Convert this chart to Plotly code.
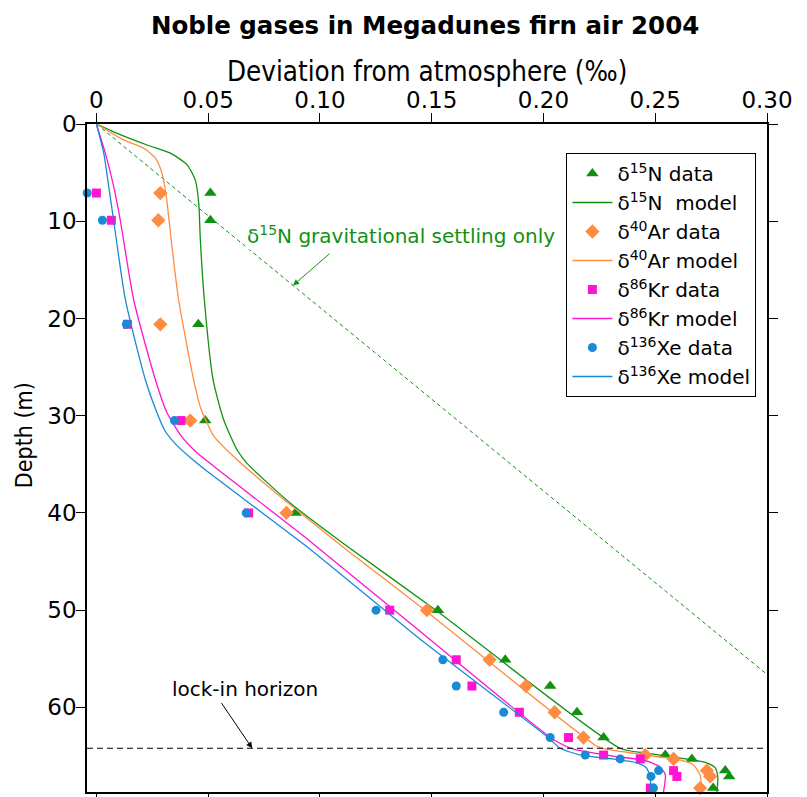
import plotly.graph_objects as go

# ---------------- data ----------------
depth_data = [7.1, 9.9, 20.6, 30.5, 40.0, 50.0, 55.1, 57.8, 60.5, 63.1, 64.9, 65.3, 66.5, 67.1, 68.3]
n15_data = [0.0510, 0.0510, 0.0456, 0.0487, 0.0890, 0.1528, 0.1829, 0.2030, 0.2150, 0.2269, 0.2545, 0.2664, 0.2813, 0.2831, 0.2759]
ar40_data = [0.0286, 0.0277, 0.0286, 0.0420, 0.0850, 0.1479, 0.1759, 0.1922, 0.2050, 0.2179, 0.2455, 0.2582, 0.2731, 0.2746, 0.2701]
kr86_data = [0.0000, 0.0067, 0.0139, 0.0379, 0.0681, 0.1312, 0.1610, 0.1680, 0.1892, 0.2112, 0.2269, 0.2433, 0.2582, 0.2597, 0.2478]
xe136_data = [-0.0041, 0.0027, 0.0134, 0.0349, 0.0670, 0.1251, 0.1550, 0.1610, 0.1822, 0.2030, 0.2187, 0.2343, 0.2515, 0.2481, 0.2492]

n15_model_depth = [0, 0.8, 2.16, 3.0, 4.2, 5.8, 8.2, 11.9, 18.1, 26.3, 30.4, 33.5, 34.9, 39.0, 43.4, 50.0, 64.2, 64.7, 65.4, 65.7, 66.2, 67.2, 68.7]
n15_model = [0, 0.0077, 0.0227, 0.0331, 0.0406, 0.0443, 0.0458, 0.0465, 0.0483, 0.0522, 0.0569, 0.0629, 0.0674, 0.0868, 0.1120, 0.1519, 0.2343, 0.2460, 0.2670, 0.2730, 0.2768, 0.2780, 0.2776]

ar40_model_depth = [0, 1.64, 2.5, 3.5, 5.1, 7.5, 12.6, 18.1, 26.3, 29.1, 32.1, 34.2, 36.9, 43.8, 50.0, 64.0, 64.3, 64.9, 65.4, 65.9, 66.9, 68.7]
ar40_model = [0, 0.0122, 0.0212, 0.0264, 0.0294, 0.0313, 0.0338, 0.0368, 0.0435, 0.0465, 0.0525, 0.0614, 0.0748, 0.1120, 0.1470, 0.2239, 0.2280, 0.2460, 0.2610, 0.2670, 0.2700, 0.2710]

kr86_model_depth = [0, 3.0, 6.4, 9.9, 18.1, 26.3, 29.7, 32.1, 33.7, 35.2, 42.8, 52.2, 63.3, 64.3, 65.0, 65.5, 66.1, 66.9, 68.7]
kr86_model = [0, 0.0040, 0.0077, 0.0107, 0.0167, 0.0264, 0.0316, 0.0380, 0.0445, 0.0525, 0.0950, 0.1449, 0.2045, 0.2135, 0.2310, 0.2460, 0.2520, 0.2545, 0.2537]

xe136_model_depth = [0, 3.0, 6.4, 9.9, 18.1, 26.3, 29.7, 31.6, 33.0, 34.4, 35.8, 43.8, 53.0, 63.0, 64.2, 64.9, 65.3, 65.7, 66.2, 67.2, 68.7]
xe136_model = [0, 0.0033, 0.0055, 0.0077, 0.0130, 0.0219, 0.0271, 0.0308, 0.0358, 0.0425, 0.0500, 0.0960, 0.1449, 0.2016, 0.2075, 0.2165, 0.2310, 0.2418, 0.2460, 0.2478, 0.2478]

grav_depth = [0, 66.0]
grav_x = [0, 0.3498]

lockin_depth = 64.2
x_ticks = [0, 0.05, 0.10, 0.15, 0.20, 0.25, 0.30]
x_ticklabels = ["0", "0.05", "0.10", "0.15", "0.20", "0.25", "0.30"]
y_ticks = [0, 10, 20, 30, 40, 50, 60]

GREEN = "#119111"
ORANGE = "#ff8c42"
MAGENTA = "#ff14d0"
BLUE = "#1a8ad4"
FONT = "DejaVu Sans"
CFONT = "DejaVu Sans Condensed"

fig = go.Figure()

fig.add_trace(go.Scatter(x=grav_x, y=grav_depth, mode="lines",
                         line=dict(color=GREEN, width=1, dash="4px,3px"),
                         showlegend=False, hoverinfo="skip"))

def add_pair(name, xd, xm, dm, color, symbol, size):
    fig.add_trace(go.Scatter(x=xd, y=depth_data, mode="markers", name=name[0],
                             marker=dict(color=color, symbol=symbol, size=size, line=dict(width=0)),
                             cliponaxis=False))
    fig.add_trace(go.Scatter(x=xm, y=dm, mode="lines", name=name[1],
                             line=dict(color=color, width=1.3, shape="spline", smoothing=0.6)))

add_pair(["δ<sup>15</sup>N data", "δ<sup>15</sup>N\u00a0\u00a0model"], n15_data, n15_model, n15_model_depth, GREEN, "triangle-up", 11)
add_pair(["δ<sup>40</sup>Ar data", "δ<sup>40</sup>Ar model"], ar40_data, ar40_model, ar40_model_depth, ORANGE, "diamond", 11)
add_pair(["δ<sup>86</sup>Kr data", "δ<sup>86</sup>Kr model"], kr86_data, kr86_model, kr86_model_depth, MAGENTA, "square", 9)
add_pair(["δ<sup>136</sup>Xe data", "δ<sup>136</sup>Xe model"], xe136_data, xe136_model, xe136_model_depth, BLUE, "circle", 9)

fig.add_shape(type="line", xref="paper", x0=0, x1=1, yref="y", y0=lockin_depth, y1=lockin_depth,
              line=dict(color="black", width=1.2, dash="6px,4px"))

fig.add_annotation(x=0.088, y=16.6, ax=0.105, ay=13.2, axref="x", ayref="y",
                   text="", showarrow=True, arrowhead=2, arrowsize=1.2, arrowwidth=1, arrowcolor=GREEN)
fig.add_annotation(x=0.1364, y=11.4, text="δ<sup>15</sup>N gravitational settling only", showarrow=False,
                   font=dict(family=FONT, size=20, color=GREEN), bgcolor="white")
fig.add_annotation(x=0.0697, y=64.2, ax=0.0555, ay=59.4, axref="x", ayref="y",
                   text="", showarrow=True, arrowhead=2, arrowsize=1.2, arrowwidth=1, arrowcolor="black")
fig.add_annotation(x=0.0666, y=58.1, text="lock-in horizon", showarrow=False,
                   font=dict(family=FONT, size=20, color="black"))

fig.add_annotation(xref="paper", yref="paper", x=-0.0928, y=0.534, text="Depth (m)", textangle=-90,
                   xanchor="center", yanchor="middle",
                   showarrow=False, font=dict(family=CFONT, size=23, color="black"))
fig.add_annotation(xref="paper", yref="paper", x=0.5, y=1.0795, text="Deviation from atmosphere (‰)",
                   xanchor="center", showarrow=False, yanchor="middle",
                   font=dict(family=CFONT, size=27.5, color="black"))

fig.update_layout(
    width=799, height=789,
    margin=dict(l=79, r=40, t=116, b=5),
    paper_bgcolor="white", plot_bgcolor="white",
    font=dict(family=FONT, size=20, color="black"),
    title=dict(text="<b>Noble gases in Megadunes firn air 2004</b>", x=0.522, xanchor="center",
               y=0.9785, yanchor="middle", font=dict(family=FONT, size=24.5, color="black")),
    showlegend=True,
    legend=dict(x=0.705, y=0.9566, xanchor="left", yanchor="top", bgcolor="white",
                bordercolor="black", borderwidth=1, font=dict(family=FONT, size=20),
                tracegroupgap=0, itemwidth=40),
    xaxis=dict(side="top", range=[-0.0042, 0.30], tickvals=x_ticks, ticktext=x_ticklabels,
               showline=True, linecolor="black", linewidth=1.5, mirror="ticks", automargin=False,
               ticks="outside", ticklen=9, tickcolor="black", showgrid=False, zeroline=False,
               ticklabelstandoff=-4, tickfont=dict(family=FONT, size=23)),
    yaxis=dict(range=[68.7, 0], tickvals=y_ticks, showline=True, linecolor="black", linewidth=1.5,
               mirror="ticks", ticks="outside", ticklen=9, tickcolor="black", showgrid=False,
               ticklabelstandoff=-5,
               automargin=False, zeroline=False, tickfont=dict(family=FONT, size=23)),
)

fig.write_html("out.html")
